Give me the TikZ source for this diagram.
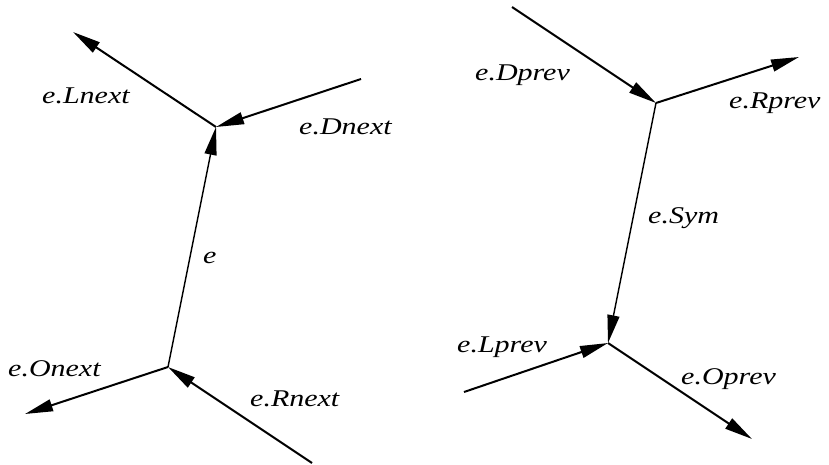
\documentclass[tikz,border=0pt]{standalone}
\usepackage{fontspec}
\setmainfont{Liberation Serif}
\usetikzlibrary{arrows.meta}
\newcommand\edgelbl[1]{\scalebox{1.25}[1]{\fontsize{24}{24}\selectfont\itshape #1}}
\tikzset{
  edge/.style={line width=2pt, -{Triangle[length=28pt,width=12pt]}},
  mainedge/.style={line width=1.4pt, -{Triangle[length=28pt,width=12pt]}},
  lbl/.style={inner sep=0pt, anchor=base west}
}
\begin{document}
\begin{tikzpicture}[x=1pt,y=-1pt]
  \useasboundingbox (0,0) rectangle (829,464);

  % left quad-edge: e and its next pointers
  \coordinate (A) at (168,367);
  \coordinate (B) at (216,127);
  \coordinate (Ltip) at (73,32);
  \coordinate (Dstart) at (361,79);
  \coordinate (Otip) at (25,414);
  \coordinate (Rstart) at (312,463);

  \draw[mainedge] (A) -- (B);
  \draw[edge] (B) -- (Ltip);
  \draw[edge] (Dstart) -- (B);
  \draw[edge] (A) -- (Otip);
  \draw[edge] (Rstart) -- (A);

  \node[lbl] (lLnext) at (42,103) {\edgelbl{e.Lnext}};
  \node[lbl] (lDnext) at (299,134) {\edgelbl{e.Dnext}};
  \node[lbl] (le) at (203,263) {\edgelbl{e}};
  \node[lbl] (lOnext) at (8,376) {\edgelbl{e.Onext}};
  \node[lbl] (lRnext) at (250,406) {\edgelbl{e.Rnext}};

  % right quad-edge: e.Sym and the prev pointers
  \coordinate (C) at (656,103);
  \coordinate (D) at (608,343);
  \coordinate (DPstart) at (512,7);
  \coordinate (RPtip) at (799,57);
  \coordinate (LPstart) at (464,392);
  \coordinate (OPtip) at (752,439);

  \draw[mainedge] (C) -- (D);
  \draw[edge] (DPstart) -- (C);
  \draw[edge] (C) -- (RPtip);
  \draw[edge] (LPstart) -- (D);
  \draw[edge] (D) -- (OPtip);

  \node[lbl] (lDprev) at (475,80) {\edgelbl{e.Dprev}};
  \node[lbl] (lRprev) at (729,108) {\edgelbl{e.Rprev}};
  \node[lbl] (lSym) at (648,223) {\edgelbl{e.Sym}};
  \node[lbl] (lLprev) at (457,352) {\edgelbl{e.Lprev}};
  \node[lbl] (lOprev) at (681,384) {\edgelbl{e.Oprev}};
\end{tikzpicture}
\end{document}
